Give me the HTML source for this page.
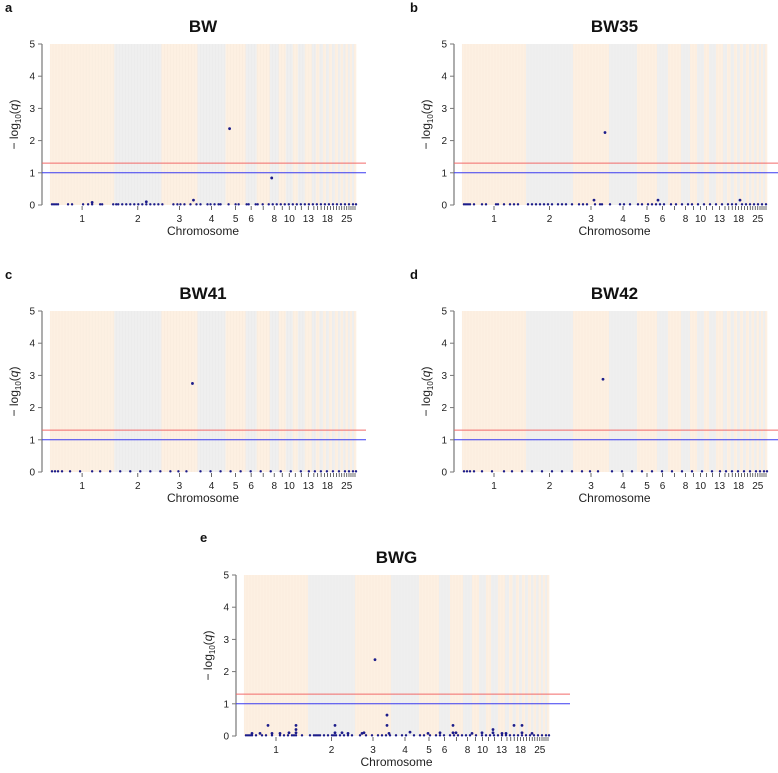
<!DOCTYPE html>
<html><head><meta charset="utf-8">
<style>
body{margin:0;background:#fff;width:778px;height:768px;overflow:hidden;font-family:"Liberation Sans",Arial,sans-serif}
svg text{font-family:"Liberation Sans",Arial,sans-serif}
</style></head>
<body>
<svg id="fig" width="778" height="768" viewBox="0 0 778 768" xmlns="http://www.w3.org/2000/svg"></svg>
<script>
// chromosome relative widths (marker-based axis units)
const chrWidths=[64,47,36,28,20,11,13,9,7,7,5,7,7,4,3.5,3.5,3,3,3,3,3,2.5,2.5,2.5,2.5,2,2,2,2];
const chrLabels=["1","2","3","4","5","6","8","10","13","18","25"];
const yTicks=[0,1,2,3,4,5];
const thresholds=[1.3,1.0];
// baseline markers (axis units)
const baseA=[2,4,6,8,18,22,33,38,42,50,52,63,66,68,72,76,80,84,88,92,96,100,104,108,112,123,127,130,134,140,146,150,157,160,164,168,170,178,185,188,196,198,205,207,212,218,222,226,230,234,238,242,246,250,254,258,262,266,270,274,278,282,286,290,294,298,302,305];
const baseB=[2,4,6,8,12,20,24,34,36,42,48,52,56,66,70,74,78,82,86,90,96,100,104,110,117,121,125,133,138,140,148,158,162,168,176,180,186,190,194,198,202,209,214,220,226,230,236,242,248,254,260,266,270,274,280,284,288,292,296,300,304];
const baseC=[2,5,8,12,20,30,42,50,60,70,80,90,100,110,120,128,136,150,160,170,180,190,200,210,220,230,240,250,258,264,270,276,282,288,294,298,302,305];
const baseD=[2,5,8,12,20,30,42,50,60,70,80,90,100,110,120,128,136,150,160,170,180,190,200,210,220,230,240,250,258,264,270,276,282,288,294,298,302,305];
const baseE=[2,4,6,8,12,18,22,28,36,40,44,48,50,52,58,66,70,72,74,76,80,84,88,90,92,96,100,104,108,116,122,128,134,138,142,146,152,158,162,170,176,180,186,192,196,200,206,210,214,218,222,226,232,238,242,246,250,254,258,262,266,270,274,278,282,286,290,294,298,302,305];
// elevated markers: positions and -log10(q)
const hitPosA=[179,221,143,96,42];      const hitValA=[2.37,0.84,0.15,0.10,0.08];
const hitPosB=[143,132,196,278];        const hitValB=[2.25,0.15,0.15,0.15];
const hitPosC=[142];                    const hitValC=[2.75];
const hitPosD=[141];                    const hitValD=[2.88];
const hitPosE=[131,143,143,24,52,52,52,91,91,209,209,249,249,270,278,278,8,16,28,36,45,98,104,118,120,145,166,184,196,212,228,238,258,262,288];
const hitValE=[2.37,0.65,0.33,0.33,0.33,0.2,0.1,0.33,0.1,0.33,0.1,0.2,0.1,0.33,0.33,0.1,0.08,0.08,0.08,0.08,0.1,0.1,0.08,0.08,0.1,0.08,0.12,0.08,0.1,0.1,0.08,0.1,0.08,0.08,0.08];

const NS="http://www.w3.org/2000/svg";
const svg=document.getElementById('fig');
function mk(tag,attrs,parent){const e=document.createElementNS(NS,tag);for(const k in attrs)e.setAttribute(k,attrs[k]);(parent||svg).appendChild(e);return e;}
const totalW=chrWidths.reduce((a,b)=>a+b,0);
const chrStart=[];{let c=0;for(const w of chrWidths){chrStart.push(c);c+=w;}}

function panel(cfg){
  const g=mk('g',{});
  
  
  const L=cfg.left,R=cfg.right,T=cfg.top,B=cfg.top+161;
  const xs=u=>L+u/totalW*(R-L);
  const ys=v=>B-v/5*(B-T);
  // chromosome bands
  chrWidths.forEach((w,i)=>{
    const r=mk('rect',{x:xs(chrStart[i]),y:T,width:xs(chrStart[i]+w)-xs(chrStart[i])+0.3,height:B-T,fill:i%2?'#efefef':'#fdf0e2'},g);
    
    
  });
  // faint stripes
  for(let u=0;u<totalW;u+=3){mk('line',{x1:xs(u),x2:xs(u),y1:T,y2:B,stroke:'#000',"stroke-opacity":0.025,"stroke-width":0.6},g);}
  // y axis
  const ax=L-8;
  const yl=mk('line',{x1:ax,x2:ax,y1:T,y2:B,stroke:'#777','stroke-width':1.2},g);
  
  
  yTicks.forEach(v=>{
    mk('line',{x1:ax-4,x2:ax,y1:ys(v),y2:ys(v),stroke:'#777'},g);
    const t=mk('text',{x:ax-7,y:ys(v)+3.5,'text-anchor':'end','font-size':10,fill:'#222'},g);
    t.textContent=v;
    
    
  });
  // y label
  const yt=mk('text',{transform:`translate(${ax-24},${(T+B)/2}) rotate(-90)`,'text-anchor':'middle','font-size':12,fill:'#222'},g);
  yt.innerHTML='\u2212 log<tspan font-size="8" dy="3">10</tspan><tspan dy="-3">(</tspan><tspan font-style="italic">q</tspan>)';
  
  
  // x ticks
  chrWidths.forEach((w,i)=>{
    const cx=xs(chrStart[i]+w/2);
    mk('line',{x1:cx,x2:cx,y1:B+1,y2:B+5,stroke:'#444','stroke-width':0.8},g);
    if(chrLabels.includes(String(i+1))){
      const t=mk('text',{x:cx,y:B+17,'text-anchor':'middle','font-size':10,fill:'#222'},g);
      t.textContent=String(i+1);
      
      
    }
  });
  const xt=mk('text',{x:(L+R)/2,y:B+30,'text-anchor':'middle','font-size':12,fill:'#222'},g);
  xt.textContent='Chromosome';
  
  
  // threshold lines
  thresholds.forEach((v,i)=>{
    const l=mk('line',{x1:ax,x2:cfg.lineEnd,y1:ys(v),y2:ys(v),stroke:i?'#3b3bf0':'#f26a6a','stroke-width':1},g);
    
    
  });
  // points
  cfg.base.forEach(p=>{
    const c=mk('circle',{cx:xs(p),cy:ys(0.02),r:1.2,fill:'#1c1c8a'},g);
    
    
  });
  cfg.hp.forEach((p,i)=>{
    const c=mk('circle',{cx:xs(p),cy:ys(cfg.hv[i]),r:1.4,fill:'#1c1c8a'},g);
    
    
  });
  // title & letter
  const ti=mk('text',{x:(L+R)/2,y:T-12,'text-anchor':'middle','font-size':17,'font-weight':'bold',fill:'#111'},g);
  ti.textContent=cfg.title;
  
  
  const le=mk('text',{x:cfg.lx,y:cfg.ly,'font-size':13,'font-weight':'bold',fill:'#111'},g);
  le.textContent=cfg.id;
  
  
}
panel({id:'a',title:'BW',left:50,right:356,top:44,lineEnd:366,lx:5,ly:12,base:baseA,hp:hitPosA,hv:hitValA});
panel({id:'b',title:'BW35',left:462,right:767,top:44,lineEnd:778,lx:410,ly:12,base:baseB,hp:hitPosB,hv:hitValB});
panel({id:'c',title:'BW41',left:50,right:356,top:311,lineEnd:366,lx:5,ly:279,base:baseC,hp:hitPosC,hv:hitValC});
panel({id:'d',title:'BW42',left:462,right:767,top:311,lineEnd:778,lx:410,ly:279,base:baseD,hp:hitPosD,hv:hitValD});
panel({id:'e',title:'BWG',left:244,right:549,top:575,lineEnd:570,lx:200,ly:542,base:baseE,hp:hitPosE,hv:hitValE});
</script>
</body></html>
